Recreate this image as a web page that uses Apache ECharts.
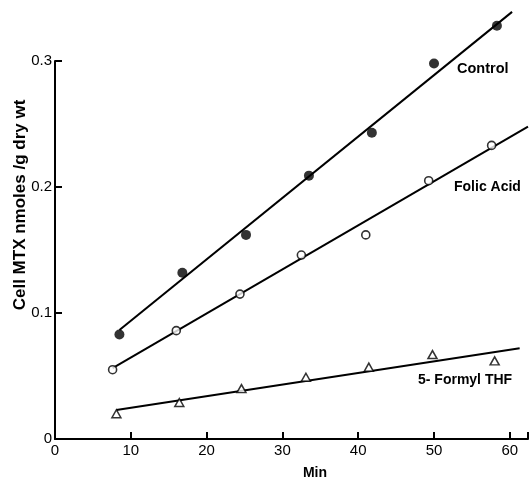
<!DOCTYPE html>
<html><head><meta charset="utf-8">
<script src="https://cdn.jsdelivr.net/npm/echarts@6/dist/echarts.min.js"></script>
<style>html,body{margin:0;padding:0;background:#fff}#c{width:531px;height:479px}</style>
</head><body><div id="c"></div>
<script>
// Data
const controlX = [8.5, 16.8, 25.2, 33.5, 41.8, 50.0, 58.3];
const controlY = [0.083, 0.132, 0.162, 0.209, 0.243, 0.298, 0.328];
const folicX = [7.6, 16.0, 24.4, 32.5, 41.0, 49.3, 57.6];
const folicY = [0.055, 0.086, 0.115, 0.146, 0.162, 0.205, 0.233];
const formylX = [8.1, 16.4, 24.6, 33.1, 41.4, 49.8, 58.0];
const formylY = [0.020, 0.029, 0.040, 0.049, 0.057, 0.067, 0.062];
// Fitted lines (end points)
const controlFitX = [8.5, 60.3];
const controlFitY = [0.0865, 0.339];
const folicFitX = [7.6, 62.4];
const folicFitY = [0.0563, 0.248];
const formylFitX = [8.1, 61.3];
const formylFitY = [0.023, 0.072];
const seriesNames = ['Control', 'Folic Acid', '5- Formyl THF'];
const xTicks = [0, 10, 20, 30, 40, 50, 60];
const yTicks = [0, 0.1, 0.2, 0.3];
const yAxisTitle = 'Cell MTX nmoles /g dry wt';
const xAxisTitle = 'Min';

const zip = (a, b) => a.map((v, i) => [v, b[i]]);
const font = 'Liberation Sans, Arial, sans-serif';
const chart = echarts.init(document.getElementById('c'));
const txt = (x, y, text, size, align) => ({type: 'text', x: x, y: y,
  style: {text: text, fill: '#000', font: 'bold ' + size + 'px ' + font, align: align || 'left', verticalAlign: 'middle'}});
chart.setOption({
  animation: false,
  backgroundColor: '#fff',
  grid: {left: 55, right: 0, top: 61, bottom: 40, containLabel: false},
  xAxis: {
    type: 'value', min: 0, max: 62.4, interval: 10,
    axisLine: {show: true, lineStyle: {color: '#000', width: 2}},
    axisTick: {show: true, inside: true, length: 7, lineStyle: {color: '#000', width: 2}},
    axisLabel: {color: '#000', fontSize: 15, fontFamily: font, margin: 4,
      formatter: v => xTicks.includes(Math.round(v * 10) / 10) ? String(v) : ''},
    splitLine: {show: false}
  },
  yAxis: {
    type: 'value', min: 0, max: 0.3, interval: 0.1,
    axisLine: {show: true, lineStyle: {color: '#000', width: 2}},
    axisTick: {show: true, inside: true, length: 7, lineStyle: {color: '#000', width: 2}},
    axisLabel: {color: '#000', fontSize: 15, fontFamily: font, margin: 3,
      formatter: v => {const r = Math.round(v * 10) / 10; return yTicks.includes(r) ? (r === 0 ? '0' : r.toFixed(1)) : '';}},
    splitLine: {show: false}
  },
  series: [
    {type: 'line', data: zip(controlFitX, controlFitY), symbol: 'none', clip: false,
     lineStyle: {color: '#000', width: 2}, z: 2},
    {type: 'line', data: zip(folicFitX, folicFitY), symbol: 'none', clip: false,
     lineStyle: {color: '#000', width: 2}, z: 2},
    {type: 'line', data: zip(formylFitX, formylFitY), symbol: 'none', clip: false,
     lineStyle: {color: '#000', width: 2}, z: 2},
    {name: seriesNames[0], type: 'scatter', data: zip(controlX, controlY), clip: false,
     symbol: 'circle', symbolSize: 10, itemStyle: {color: '#000'}, z: 3},
    {name: seriesNames[1], type: 'scatter', data: zip(folicX, folicY), clip: false,
     symbol: 'circle', symbolSize: 8, itemStyle: {color: '#fff', borderColor: '#000', borderWidth: 1.6}, z: 3},
    {name: seriesNames[2], type: 'scatter', data: zip(formylX, formylY), clip: false,
     symbol: 'triangle', symbolSize: [9, 8], itemStyle: {color: '#fff', borderColor: '#000', borderWidth: 1.5}, z: 3}
  ],
  graphic: [
    txt(457, 69, seriesNames[0], 14.5),
    txt(454, 187, seriesNames[1], 14),
    txt(418, 380, seriesNames[2], 14),
    txt(315, 473, xAxisTitle, 14, 'center'),
    {type: 'text', x: 20, y: 205, rotation: Math.PI / 2,
     style: {text: yAxisTitle, fill: '#000', font: 'bold 17px ' + font, align: 'center', verticalAlign: 'middle'}}
  ]
});
</script></body></html>
